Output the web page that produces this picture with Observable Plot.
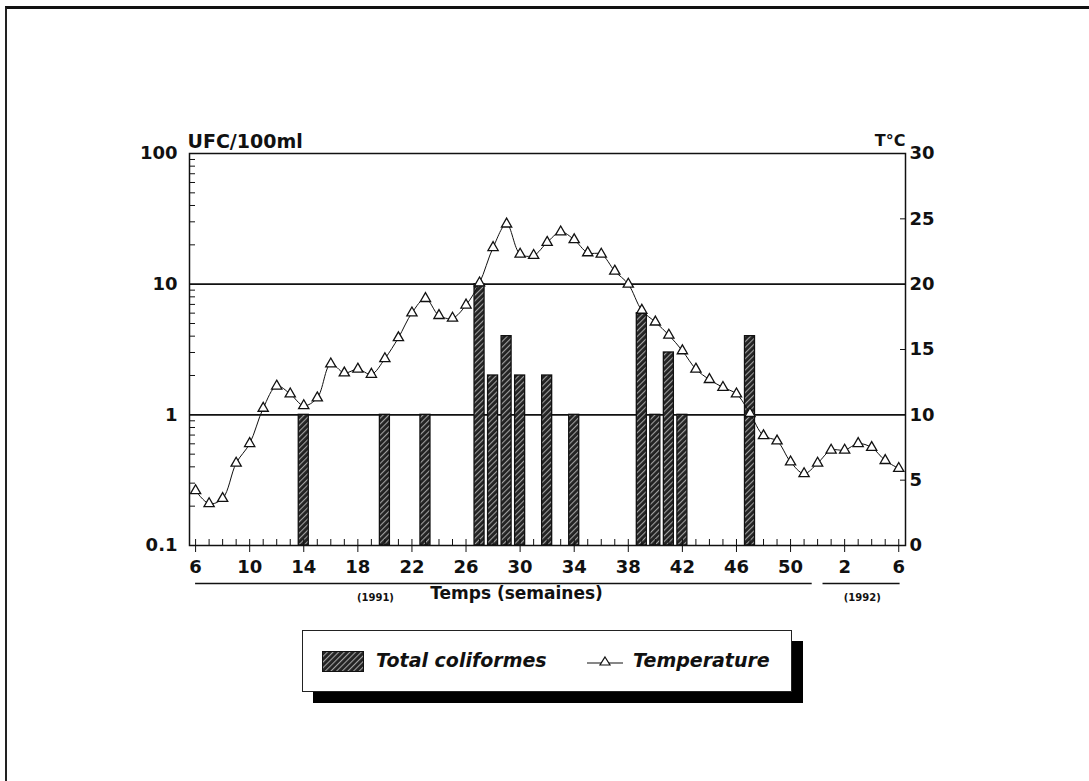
<!DOCTYPE html>
<html><head><meta charset="utf-8">
<script src="https://cdn.jsdelivr.net/npm/d3@7"></script>
<script src="https://cdn.jsdelivr.net/npm/@observablehq/plot@0.6"></script>
<style>
body{margin:0;background:#fff;}
#page{position:relative;width:1089px;height:781px;overflow:hidden;font-family:"DejaVu Sans",sans-serif;color:#111;}
#border{position:absolute;left:5px;top:6px;right:-10px;bottom:-10px;border-top:3px solid #111;border-left:2px solid #222;pointer-events:none;}
#chart{position:absolute;left:0;top:0;}
#legend{position:absolute;left:302px;top:630px;width:488px;height:60px;border:1px solid #222;background:#fff;box-shadow:11px 11px 0 #000;}
#legend .sw{position:absolute;left:19px;top:20px;}
#legend .t{position:absolute;top:18px;font-size:19px;font-weight:bold;font-style:italic;white-space:nowrap;}
#legend .ln{position:absolute;left:282px;top:20px;}
</style>
</head>
<body>
<div id="page">
  <div id="chart"></div>
  <div id="legend">
    <svg class="sw" width="42" height="21"><defs><pattern id="hatchL" patternUnits="userSpaceOnUse" width="4" height="4" patternTransform="rotate(45)"><rect width="4" height="4" fill="#222"/><rect width="1.1" height="4" fill="#a0a0a0"/></pattern></defs><rect x="0.5" y="0.5" width="41" height="20" fill="url(#hatchL)" stroke="#111"/></svg>
    <div class="t" style="left:73px">Total coliformes</div>
    <svg class="ln" width="40" height="21"><line x1="2" y1="12" x2="38" y2="12" stroke="#111" stroke-width="1.2"/><path d="M20,6 L25,14 L15,14 Z" fill="#fff" stroke="#111" stroke-width="1.2"/></svg>
    <div class="t" style="left:330px">Temperature</div>
  </div>
  <div id="border"></div>
</div>
<script>
// ---- data ----
const weeks = [6,7,8,9,10,11,12,13,14,15,16,17,18,19,20,21,22,23,24,25,26,27,28,29,30,31,32,33,34,35,36,37,38,39,40,41,42,43,44,45,46,47,48,49,50,51,52,1,2,3,4,5,6];
const temperature = [4.2,3.2,3.6,6.3,7.8,10.5,12.2,11.6,10.7,11.3,13.9,13.2,13.5,13.1,14.3,15.9,17.8,18.9,17.6,17.4,18.4,20.1,22.8,24.6,22.3,22.2,23.2,24.0,23.4,22.4,22.3,21.0,20.0,18.0,17.1,16.1,14.9,13.5,12.7,12.1,11.6,10.1,8.4,8.0,6.4,5.5,6.3,7.3,7.3,7.8,7.5,6.5,5.9];
const barWeeks = [14,20,23,27,28,29,30,32,34,39,40,41,42,47];
const coliformes = [1,1,1,10,2,4,2,2,1,6,1,3,1,4];
const leftTicks = [0.1,1,10,100];
const leftTickLabels = ["0.1","1","10","100"];
const rightTicks = [0,5,10,15,20,25,30];
const xTickLabels = [6,10,14,18,22,26,30,34,38,42,46,50,2,6];
const yearLabels = ["(1991)","(1992)"];
const yearFrom = [0, 46.4];
const yearTo = [45.6, 52.1];
const yearLabelAt = [13.3, 49.3];

// ---- derived tables ----
const temps = weeks.map((w, i) => ({i, w, t: temperature[i]}));
const bars = barWeeks.map((w, k) => ({i: weeks.indexOf(w), v: coliformes[k]}));
const toY = t => Math.pow(10, t / 10 - 1); // 0..30 °C onto 0.1..100
const majorIdx = xTickLabels.map((_, k) => k * 4);
const minorLog = [];
for (const base of [0.1, 1, 10]) for (let m = 2; m <= 9; m++) minorLog.push(+(base * m).toPrecision(3));
const years = yearLabels.map((label, k) => ({label, from: yearFrom[k], to: yearTo[k], at: yearLabelAt[k]}));

const chart = Plot.plot({
  width: 1089, height: 781,
  marginLeft: 189, marginRight: 184, marginTop: 153, marginBottom: 236,
  x: {domain: [-0.45, 52.5]},
  y: {type: "log", domain: [0.1, 100]},
  style: {fontFamily: "DejaVu Sans", fontSize: "18px", fontWeight: "bold", color: "#111", background: "transparent", overflow: "visible"},
  marks: [
    Plot.ruleY([1, 10], {stroke: "#111", strokeWidth: 1.7}),
    Plot.rect(bars, {x1: d => d.i - 0.37, x2: d => d.i + 0.37, y1: () => 0.1, y2: "v", fill: "url(#hatch)", stroke: "#111", strokeWidth: 1.3}),
    Plot.line(temps, {x: "i", y: d => toY(d.t), curve: "catmull-rom", stroke: "#111", strokeWidth: 1}),
    Plot.dot(temps, {x: "i", y: d => toY(d.t), symbol: "triangle", r: 3.8, fill: "white", stroke: "#111", strokeWidth: 1.3}),
    Plot.frame({stroke: "#111", strokeWidth: 1.5}),
    // left axis
    Plot.axisY({anchor: "left", ticks: leftTicks, tickSize: 0, tickPadding: 12, tickFormat: d => leftTickLabels[leftTicks.indexOf(d)], label: null}),
    Plot.axisY({anchor: "left", ticks: minorLog, tickSize: 6, dx: 6, tickFormat: () => "", label: null}),
    // right axis
    Plot.axisY({anchor: "right", ticks: rightTicks.map(toY), tickSize: 0, tickPadding: 4, tickFormat: d => String(Math.round(10 * (Math.log10(d) + 1))), label: null}),
    Plot.axisY({anchor: "right", ticks: [5, 15, 25].map(toY), tickSize: 6, dx: -6, tickFormat: () => "", label: null}),
    // x axis
    Plot.axisX({anchor: "bottom", ticks: weeks.map((_, i) => i), tickSize: 6, dy: -6, tickFormat: () => "", label: null}),
    Plot.axisX({anchor: "bottom", ticks: majorIdx, tickSize: 7, tickPadding: 8, tickFormat: d => String(xTickLabels[majorIdx.indexOf(d)]), label: null}),
    // year underlines and labels
    Plot.ruleY(years, {y: () => 0.1, x1: "from", x2: "to", dy: 38, stroke: "#111", strokeWidth: 1.5}),
    Plot.text(years, {x: "at", y: () => 0.1, dy: 52, text: "label", fontSize: 10, fontWeight: "bold"}),
    Plot.text(["Temps (semaines)"], {frameAnchor: "bottom", dx: -31, dy: 53, text: d => d, fontSize: 17, fontWeight: "bold"}),
    // axis titles
    Plot.text(["UFC/100ml"], {frameAnchor: "top-left", dx: -2, dy: -19, text: d => d, textAnchor: "start", fontSize: 19}),
    Plot.text(["T°C"], {frameAnchor: "top-right", dx: 0, dy: -19, text: d => d, textAnchor: "end", fontSize: 16})
  ]
});
d3.select(chart).insert("defs", ":first-child").html(
  '<pattern id="hatch" patternUnits="userSpaceOnUse" width="4" height="4" patternTransform="rotate(45)">' +
  '<rect width="4" height="4" fill="#222"/><rect width="1.1" height="4" fill="#a0a0a0"/></pattern>');
document.getElementById("chart").appendChild(chart);
</script>
</body></html>
